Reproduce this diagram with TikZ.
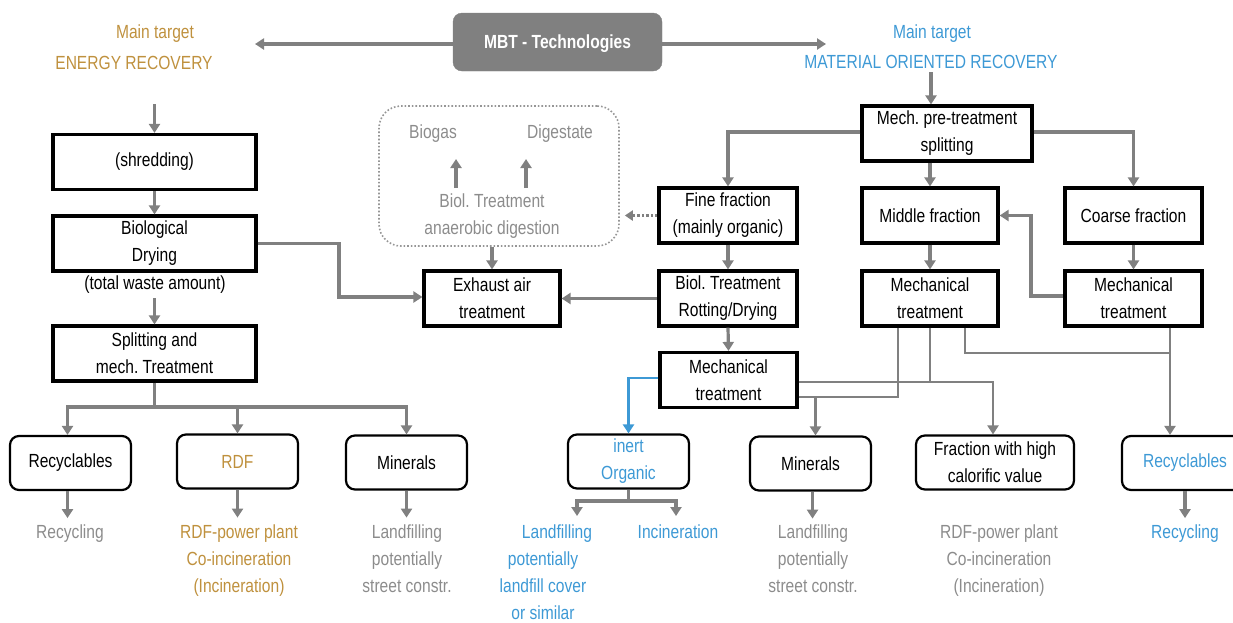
\documentclass[tikz,border=0pt]{standalone}
\usepackage{fontspec}
\setmainfont{Liberation Sans}[FakeStretch=0.82]
\frenchspacing
\usetikzlibrary{arrows.meta,calc}
\definecolor{gold}{RGB}{191,145,62}
\definecolor{mblue}{RGB}{61,153,213}
\definecolor{tgray}{RGB}{140,140,140}
\definecolor{agray}{RGB}{128,128,128}
\definecolor{dgray}{RGB}{150,150,150}
\tikzset{
  every node/.style={font=\fontsize{19}{27}\selectfont, align=center},
  box/.style={draw=black, line width=3.2pt, inner sep=2pt, minimum height=55pt},
  rbox/.style={draw=black, line width=2.2pt, rounded corners=9pt, minimum width=121pt, minimum height=54pt},
  dotbox/.style={draw=dgray, line width=1.6pt, dotted, rounded corners=22pt},
  lab/.style={inner sep=0pt},
  conn/.style={draw=agray, line width=3.2pt},
  arr/.style={conn, -{Triangle[width=11pt,length=9pt]}},
  thinconn/.style={draw=agray, line width=2.2pt},
  thinarr/.style={thinconn, -{Triangle[width=11pt,length=9pt]}},
  bluearr/.style={draw=mblue, line width=2.2pt, -{Triangle[width=11pt,length=9pt]}},
  dotarr/.style={draw=agray, line width=2.4pt, dotted, -{Triangle[width=10pt,length=8pt]}},
}
\begin{document}
\begin{tikzpicture}[x=1pt,y=-1pt]
\useasboundingbox (0,0) rectangle (1233,622);
\clip (0,0) rectangle (1233,622);

% ---- header ----
\node[draw=agray, fill=agray, rounded corners=9pt, minimum width=209pt, minimum height=58pt, text=white, text depth=1pt, font=\fontsize{19}{27}\selectfont\bfseries] (mbt) at (557.5,42) {MBT - Technologies};
\node[lab, text=gold] (tE1) at (155,34) {Main target};
\node[lab, text=gold] (tE2) at (134,63) {ENERGY RECOVERY};
\node[lab, text=mblue] (tM1) at (932,34) {Main target};
\node[lab, text=mblue] (tM2) at (931,62) {MATERIAL ORIENTED RECOVERY};
\coordinate (eL) at (255,44);
\coordinate (eR) at (826,44);
\draw[arr] (mbt.west |- eL) -- (eL);
\draw[arr] (mbt.east |- eR) -- (eR);

% ---- left column ----
\node[box, minimum width=203pt] (shred) at (154.5,162) {(shredding)};
\node[box, minimum width=203pt] (bdry) at (154.5,243.5) {Biological\\Drying};
\node[lab] (twa) at (155,285) {(total waste amount)};
\node[box, minimum width=203pt] (split) at (154.5,353.5) {Splitting and\\mech. Treatment};
\coordinate (eS) at (154.5,104);
\draw[arr] (eS) -- (shred.north);
\draw[arr] (shred.south) -- (bdry.north);
\coordinate (tw) at (154.5,298);
\draw[arr] (tw) -- (split.north);

\node[rbox] (rec1) at (70.5,463) {Recyclables};
\node[rbox, text=gold] (rdf) at (237.5,461.5) {RDF};
\node[rbox] (min1) at (406.5,462.5) {Minerals};
\coordinate (bl) at (154.5,407);
\draw[conn] (split.south) -- (bl);
\draw[arr] (bl) -| ([xshift=-3pt]rec1.north);
\draw[arr] (bl) -| (rdf.north);
\draw[arr] (bl) -| (min1.north);

\node[lab, anchor=north, text=tgray] (o1) at (70,525) {Recycling};
\node[lab, anchor=north, text=gold] (o2) at (239,525) {RDF-power plant\\Co-incineration\\(Incineration)};
\node[lab, anchor=north, text=tgray] (o3) at (407,525) {Landfilling\\potentially\\street constr.};
\draw[arr] ([xshift=-3pt]rec1.south) -- ++(0,27);
\draw[arr] (rdf.south) -- ++(0,28);
\draw[arr] (min1.south) -- ++(0,27);

% ---- anaerobic digestion (dotted) ----
\node[dotbox, minimum width=240pt, minimum height=140pt] (ad) at (499,176) {};
\node[lab, text=tgray] (biogas) at (433,134) {Biogas};
\node[lab, text=tgray] (dig) at (560,134) {Digestate};
\node[lab, text=tgray] (adt) at (492,216.5) {Biol. Treatment\\anaerobic digestion};
\coordinate (a1) at (456,188);
\coordinate (a2) at (526,188);
\draw[arr] (a1) -- (a1 |- 0,159);
\draw[arr] (a2) -- (a2 |- 0,159);

\node[box, minimum width=136pt] (exh) at (492,298.5) {Exhaust air\\treatment};
\draw[arr] (exh.north |- ad.south) -- (exh.north);
\draw[arr] (bdry.east) -- (339,243.5) |- ([yshift=1.5pt]exh.west);

% ---- right side ----
\coordinate (mS) at (931,72);
\node[box, minimum width=170pt] (mpre) at (947,133.5) {Mech. pre-treatment\\splitting};
\draw[arr] (mS) -- (mS |- mpre.north);

\node[box, minimum width=138pt] (fine) at (728,215.5) {Fine fraction\\(mainly organic)};
\node[box, minimum width=136pt] (mid) at (930,215.5) {Middle fraction};
\node[box, minimum width=137pt] (coarse) at (1133.5,215.5) {Coarse fraction};
\draw[arr] ([yshift=1.5pt]mpre.west) -| (fine.north);
\draw[arr] ([yshift=1.5pt]mpre.east) -| (coarse.north);
\draw[arr] (mid.north |- mpre.south) -- (mid.north);
\draw[dotarr, shorten >=5pt] (fine.west) -- (ad.east |- fine.west);

\node[box, minimum width=138pt] (bio) at (728,298.5) {Biol. Treatment\\Rotting/Drying};
\node[box, minimum width=136pt] (mtm) at (930,298.5) {Mechanical\\treatment};
\node[box, minimum width=137pt] (mtc) at (1133.5,298.5) {Mechanical\\treatment};
\draw[arr] (fine.south) -- (bio.north);
\draw[arr] (mid.south) -- (mtm.north);
\draw[arr] (coarse.south) -- (mtc.north);
\draw[arr] (bio.west) -- (exh.east);
\draw[arr] ([yshift=2.5pt]mtc.west) -- (1031,296) |- (mid.east);

\node[box, minimum width=137pt] (mt3) at (728.5,380) {Mechanical\\treatment};
\draw[arr] (bio.south) -- (mt3.north);

% lower right boxes
\node[rbox, text=mblue] (ino) at (628.5,461.5) {inert\\Organic};
\node[rbox] (min2) at (810.5,463.5) {Minerals};
\node[rbox, minimum width=158pt] (fhc) at (995,462.5) {Fraction with high\\calorific value};
\node[rbox, minimum width=126pt, text=mblue] (rec2) at (1185,463) {Recyclables};

% thin connectors
\draw[thinarr] (mtm.south) -- (930,382) -| ([xshift=-2pt]fhc.north);
\draw[thinconn] ([yshift=-2pt]mt3.east) -- (930,382);
\draw[thinarr] ([xshift=-32pt]mtm.south) -- (898,397) -| ([xshift=5pt]min2.north);
\draw[thinconn] ([yshift=-17pt]mt3.east) -- (816,397);
\draw[thinconn] ([xshift=35pt]mtm.south) |- (1170,353);
\draw[thinarr] ([xshift=36.5pt]mtc.south) -- ([xshift=36.5pt]mtc.south |- rec2.north);
\draw[bluearr] ([yshift=2pt]mt3.west) -| (ino.north);

% inert organic outputs
\coordinate (ij) at (628.5,501);
\coordinate (ia1) at (577,516);
\coordinate (ia2) at (676,516);
\draw[conn] (ino.south) -- (ij);
\draw[arr] (ij) -| (ia1);
\draw[arr] (ij) -| (ia2);
\node[lab, anchor=north, text=mblue] (lf1) at (557,525) {Landfilling};
\node[lab, anchor=north, text=mblue] (lf2) at (543,552) {potentially\\landfill cover\\or similar};
\node[lab, anchor=north, text=mblue] (inc) at (678,525) {Incineration};

\node[lab, anchor=north, text=tgray] (o4) at (813,525) {Landfilling\\potentially\\street constr.};
\node[lab, anchor=north, text=tgray] (o5) at (999,525) {RDF-power plant\\Co-incineration\\(Incineration)};
\node[lab, anchor=north, text=mblue] (o6) at (1185,525) {Recycling};
\draw[arr] ([xshift=2pt]min2.south) -- ++(0,27);
\draw[arr] (rec2.south) -- ++(0,27);
\end{tikzpicture}
\end{document}
